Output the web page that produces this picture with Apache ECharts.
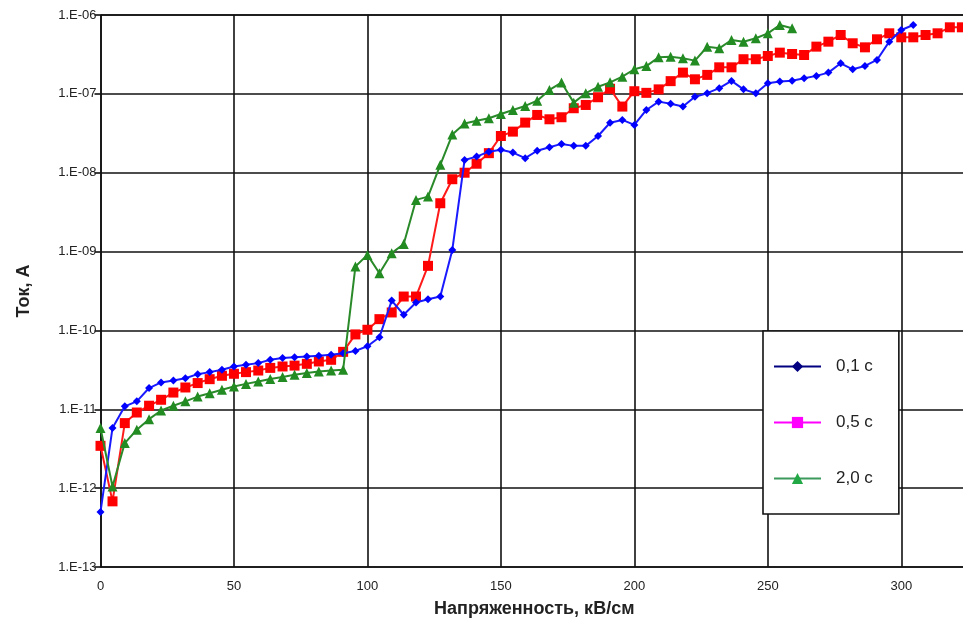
<!DOCTYPE html>
<html><head><meta charset="utf-8">
<script src="https://cdn.jsdelivr.net/npm/echarts@6/dist/echarts.min.js"></script>
<style>html,body{margin:0;padding:0;background:#fff}#c{width:963px;height:625px}</style>
</head><body><div id="c"></div>
<script>
var voltage = [0, 4.5, 9.1, 13.6, 18.2, 22.7, 27.3, 31.8, 36.4, 40.9, 45.5, 50, 54.5, 59.1, 63.6, 68.2, 72.7, 77.3, 81.8, 86.4,
  90.9, 95.5, 100, 104.5, 109.1, 113.6, 118.2, 122.7, 127.3, 131.8, 136.4, 140.9, 145.5, 150, 154.5, 159.1, 163.6, 168.2, 172.7, 177.3,
  181.8, 186.4, 190.9, 195.5, 200, 204.5, 209.1, 213.6, 218.2, 222.7, 227.3, 231.8, 236.4, 240.9, 245.5, 250, 254.5, 259.1, 263.6, 268.2,
  272.7, 277.3, 281.8, 286.4, 290.9, 295.5, 300, 304.5, 309.1, 313.6, 318.2, 322.7];
var current01 = [5.0e-13, 5.8e-12, 1.09e-11, 1.26e-11, 1.86e-11, 2.19e-11, 2.32e-11, 2.48e-11, 2.79e-11, 2.96e-11,
  3.17e-11, 3.49e-11, 3.66e-11, 3.85e-11, 4.24e-11, 4.46e-11, 4.58e-11, 4.68e-11, 4.77e-11, 4.91e-11,
  5.15e-11, 5.5e-11, 6.3e-11, 8.2e-11, 2.39e-10, 1.58e-10, 2.26e-10, 2.49e-10, 2.69e-10, 1.05e-9,
  1.45e-8, 1.6e-8, 1.85e-8, 1.95e-8, 1.8e-8, 1.53e-8, 1.9e-8, 2.1e-8, 2.32e-8, 2.19e-8,
  2.19e-8, 2.92e-8, 4.3e-8, 4.67e-8, 4.04e-8, 6.25e-8, 7.97e-8, 7.5e-8, 6.9e-8, 9.2e-8,
  1.02e-7, 1.18e-7, 1.46e-7, 1.14e-7, 1.02e-7, 1.36e-7, 1.43e-7, 1.47e-7, 1.58e-7, 1.69e-7,
  1.86e-7, 2.44e-7, 2.05e-7, 2.26e-7, 2.69e-7, 4.59e-7, 6.45e-7, 7.47e-7];
var current05 = [3.44e-12, 6.8e-13, 6.68e-12, 9.1e-12, 1.11e-11, 1.32e-11, 1.63e-11, 1.89e-11, 2.15e-11, 2.41e-11,
  2.66e-11, 2.82e-11, 2.96e-11, 3.1e-11, 3.35e-11, 3.49e-11, 3.58e-11, 3.77e-11, 4.04e-11, 4.24e-11,
  5.35e-11, 8.9e-11, 1.02e-10, 1.39e-10, 1.69e-10, 2.69e-10, 2.69e-10, 6.59e-10, 4.1e-9, 8.27e-9,
  1.0e-8, 1.3e-8, 1.77e-8, 2.92e-8, 3.32e-8, 4.32e-8, 5.4e-8, 4.76e-8, 5.05e-8, 6.57e-8,
  7.23e-8, 9.06e-8, 1.16e-7, 6.9e-8, 1.08e-7, 1.03e-7, 1.14e-7, 1.45e-7, 1.86e-7, 1.53e-7,
  1.74e-7, 2.17e-7, 2.17e-7, 2.75e-7, 2.75e-7, 3.02e-7, 3.33e-7, 3.2e-7, 3.11e-7, 3.97e-7,
  4.59e-7, 5.58e-7, 4.38e-7, 3.89e-7, 4.92e-7, 5.86e-7, 5.21e-7, 5.21e-7, 5.58e-7, 5.86e-7,
  6.98e-7, 6.98e-7];
var current20 = [5.78e-12, 1.05e-12, 3.73e-12, 5.5e-12, 7.5e-12, 9.66e-12, 1.11e-11, 1.26e-11, 1.45e-11, 1.6e-11,
  1.77e-11, 1.95e-11, 2.1e-11, 2.25e-11, 2.42e-11, 2.56e-11, 2.74e-11, 2.88e-11, 3.01e-11, 3.1e-11,
  3.18e-11, 6.45e-10, 9.08e-10, 5.32e-10, 9.55e-10, 1.25e-9, 4.52e-9, 4.98e-9, 1.26e-8, 3.05e-8,
  4.2e-8, 4.55e-8, 4.9e-8, 5.56e-8, 6.25e-8, 7.03e-8, 8.2e-8, 1.12e-7, 1.39e-7, 7.74e-8,
  1.02e-7, 1.23e-7, 1.4e-7, 1.65e-7, 2.05e-7, 2.25e-7, 2.91e-7, 2.95e-7, 2.83e-7, 2.64e-7,
  3.96e-7, 3.78e-7, 4.82e-7, 4.59e-7, 5.07e-7, 5.86e-7, 7.47e-7, 6.78e-7];
var seriesNames = ['0,1 с', '0,5 с', '2,0 с'];
var xTicks = [0, 50, 100, 150, 200, 250, 300];
var yTicks = ['1.E-13', '1.E-12', '1.E-11', '1.E-10', '1.E-09', '1.E-08', '1.E-07', '1.E-06'];

function pairs(ys) { return ys.map(function (y, i) { return [voltage[i], y]; }); }

var chart = echarts.init(document.getElementById('c'), null, { renderer: 'canvas' });
var font = 'Liberation Sans, Arial, sans-serif';
chart.setOption({
  animation: false,
  backgroundColor: '#fff',
  grid: { left: 100.5, right: -5, top: 15, bottom: 58, containLabel: false, outerBoundsMode: 'none' },
  xAxis: {
    type: 'value', min: 0, max: 325, interval: 50,
    name: 'Напряженность, кВ/см', nameLocation: 'middle', nameGap: 33,
    nameTextStyle: { fontFamily: font, fontSize: 18, fontWeight: 'bold', color: '#222' },
    axisLine: { show: true, onZero: false, lineStyle: { color: '#111', width: 1.6 } },
    axisTick: { show: false },
    axisLabel: {
      margin: 13, fontFamily: font, fontSize: 13, color: '#222', showMaxLabel: false,
      formatter: function (v) { return xTicks.indexOf(v) >= 0 ? String(v) : ''; }
    },
    splitLine: { show: true, lineStyle: { color: '#111', width: 1.6 } }
  },
  yAxis: {
    type: 'log', logBase: 10, min: 1e-13, max: 1e-6,
    name: 'Ток, А', nameLocation: 'middle', nameGap: 67, nameRotate: 90,
    nameTextStyle: { fontFamily: font, fontSize: 18, fontWeight: 'bold', color: '#222' },
    axisLine: { show: true, lineStyle: { color: '#111', width: 1.6 } },
    axisTick: { show: true, length: 6, lineStyle: { color: '#111', width: 1.6 } },
    axisLabel: {
      margin: 4, fontFamily: font, fontSize: 13, color: '#222',
      formatter: function (v) { var e = Math.round(Math.log10(v)); return yTicks[e + 13] || ''; }
    },
    splitLine: { show: true, lineStyle: { color: '#111', width: 1.6 } }
  },
  legend: {
    orient: 'vertical', left: 763, top: 331,
    backgroundColor: '#fff', borderColor: '#111', borderWidth: 1.6,
    padding: [27, 26, 27, 10], itemGap: 39, itemWidth: 47, itemHeight: 14,
    textStyle: { fontFamily: font, fontSize: 17, color: '#222', padding: [0, 0, 0, 10] },
    data: [
      { name: seriesNames[0], itemStyle: { color: '#000080' }, lineStyle: { color: '#000080', width: 2 } },
      { name: seriesNames[1], itemStyle: { color: '#ff00ff' }, lineStyle: { color: '#ff00ff', width: 2 } },
      { name: seriesNames[2], itemStyle: { color: '#22a845' }, lineStyle: { color: '#3c9a5c', width: 2 } }
    ]
  },
  series: [
    { name: seriesNames[0], type: 'line', data: pairs(current01), symbol: 'diamond', symbolSize: 8,
      color: '#0000ff', lineStyle: { color: '#1a1aff', width: 2 }, itemStyle: { color: '#0000ff' }, z: 3 },
    { name: seriesNames[1], type: 'line', data: pairs(current05), symbol: 'rect', symbolSize: 10,
      color: '#ff0000', lineStyle: { color: '#ff1a1a', width: 2 }, itemStyle: { color: '#ff0000' }, z: 2 },
    { name: seriesNames[2], type: 'line', data: pairs(current20), symbol: 'triangle', symbolSize: 10,
      color: '#228b22', lineStyle: { color: '#2a8a2a', width: 2 }, itemStyle: { color: '#228b22' }, z: 4 }
  ]
});
</script></body></html>
